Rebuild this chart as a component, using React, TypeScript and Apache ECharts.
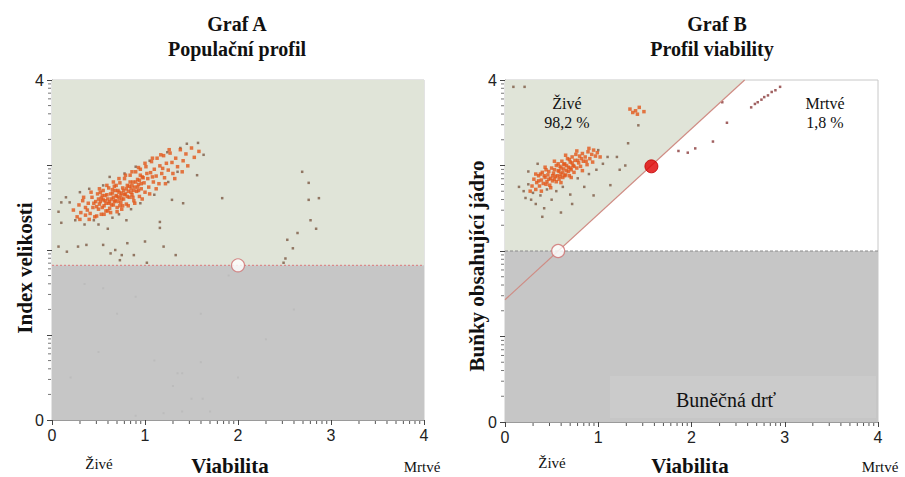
import React, { useEffect, useRef } from "react";
import * as echarts from "echarts";

// ---- axis ticks ----
const axisTickValues = [0, 1, 2, 3, 4];
const yLabelsShown = [0, 4];
const logMinorFactors = [2, 3, 4, 5, 6, 7, 8, 9];

// ---- gates ----
const gateA = 1.82; // size-index threshold in graph A
const handleA = [[2.0, 1.82]];
const gateB = 2.0; // nucleated threshold in graph B
const diagB = [[0, 1.43], [2.57, 4]]; // live / dead boundary
const handleBWhite = [[0.57, 2.0]];
const handleBRed = [[1.57, 2.99]];

// ---- Graph A data ----
const aCore = [
  [0.23, 2.47], [0.27, 2.39], [0.29, 2.53], [0.31, 2.44], [0.33, 2.58], [0.36, 2.41], [0.36, 2.5], [0.39, 2.55], [0.41, 2.43], [0.43, 2.62],
  [0.44, 2.5], [0.46, 2.39], [0.47, 2.57], [0.49, 2.66], [0.5, 2.48], [0.51, 2.54], [0.53, 2.61], [0.53, 2.42], [0.55, 2.7], [0.56, 2.52],
  [0.57, 2.58], [0.58, 2.46], [0.59, 2.65], [0.61, 2.55], [0.61, 2.73], [0.62, 2.49], [0.64, 2.6], [0.65, 2.67], [0.66, 2.53], [0.67, 2.75],
  [0.68, 2.58], [0.69, 2.64], [0.7, 2.5], [0.71, 2.7], [0.72, 2.61], [0.73, 2.79], [0.74, 2.56], [0.75, 2.67], [0.76, 2.73], [0.77, 2.6],
  [0.78, 2.84], [0.79, 2.66], [0.8, 2.54], [0.81, 2.76], [0.82, 2.69], [0.83, 2.62], [0.84, 2.88], [0.85, 2.72], [0.86, 2.65], [0.87, 2.8],
  [0.88, 2.58], [0.89, 2.74], [0.9, 2.92], [0.91, 2.69], [0.92, 2.83], [0.93, 2.77], [0.94, 2.63], [0.95, 2.95], [0.96, 2.72], [0.97, 2.86],
  [0.99, 2.79], [1.0, 2.68], [1.01, 2.98], [1.03, 2.84], [1.04, 2.74], [1.06, 2.91], [1.07, 3.04], [1.09, 2.8], [1.1, 2.95], [1.12, 2.87],
  [1.13, 3.08], [1.15, 2.78], [1.16, 2.99], [1.18, 2.9], [1.2, 3.11], [1.21, 2.85], [1.23, 3.02], [1.25, 2.94], [1.27, 3.14], [1.29, 3.03],
  [1.3, 2.9], [1.33, 3.08], [1.35, 2.98], [1.38, 3.18], [1.41, 3.05], [1.44, 3.13], [1.46, 2.99], [1.5, 3.2], [1.53, 3.09], [1.58, 3.16],
  [0.45, 2.55], [0.48, 2.51], [0.5, 2.6], [0.52, 2.57], [0.54, 2.5], [0.55, 2.59], [0.57, 2.64], [0.58, 2.55], [0.6, 2.6], [0.62, 2.57],
  [0.63, 2.66], [0.64, 2.53], [0.66, 2.62], [0.67, 2.57], [0.68, 2.7], [0.7, 2.63], [0.71, 2.57], [0.72, 2.68], [0.74, 2.64], [0.75, 2.6],
  [0.77, 2.7], [0.78, 2.65], [0.8, 2.72], [0.81, 2.63], [0.83, 2.75], [0.85, 2.68], [0.86, 2.76], [0.88, 2.7], [0.9, 2.8], [0.92, 2.74],
  [0.94, 2.82], [0.96, 2.78], [0.98, 2.85], [0.52, 2.68], [0.6, 2.46], [0.69, 2.76], [0.76, 2.52], [0.84, 2.8], [0.93, 2.7], [1.02, 2.9],
  [0.3, 2.36], [0.34, 2.62], [0.4, 2.36], [0.42, 2.68], [0.48, 2.4], [0.51, 2.72], [0.56, 2.42], [0.59, 2.76], [0.63, 2.44], [0.66, 2.8],
  [0.7, 2.45], [0.72, 2.84], [0.75, 2.48], [0.79, 2.88], [0.82, 2.52], [0.86, 2.92], [0.89, 2.55], [0.93, 2.97], [0.97, 2.6], [1.0, 3.02],
  [1.05, 2.66], [1.08, 3.08], [1.12, 2.72], [1.17, 3.12], [1.22, 2.78], [1.26, 3.18], [1.32, 2.84], [1.4, 2.92], [0.38, 2.47], [0.54, 2.64],
  [0.65, 2.71], [0.73, 2.52], [0.87, 2.62], [0.95, 2.88], [1.08, 2.86], [1.19, 2.96],
];
const aOuter = [
  [0.1, 2.56], [0.19, 2.56], [0.07, 2.45], [0.1, 2.32], [0.15, 2.62], [0.25, 2.35], [0.3, 2.68], [0.4, 2.72], [0.45, 2.35], [0.5, 2.3],
  [0.55, 2.76], [0.62, 2.86], [0.65, 2.38], [0.72, 2.42], [0.78, 2.9], [0.85, 2.48], [0.9, 2.98], [0.95, 2.55], [1.05, 3.05], [1.1, 2.65],
  [1.16, 2.33], [1.16, 2.26], [1.24, 3.15], [1.29, 2.59], [1.38, 3.2], [1.41, 2.55], [1.45, 3.25], [1.56, 2.88], [1.57, 3.26], [1.63, 3.12],
  [1.25, 2.8], [1.35, 2.92], [0.35, 2.3], [0.6, 2.25], [0.8, 2.35], [1.83, 2.61],
  [0.07, 2.04], [0.16, 1.98], [0.28, 2.04], [0.37, 2.06], [0.55, 2.06], [0.63, 1.96], [0.68, 2.0], [0.75, 1.94], [0.73, 1.88], [0.88, 1.94],
  [0.81, 2.08], [1.02, 1.85], [1.2, 2.04], [1.33, 1.94], [1.0, 2.1],
  [2.69, 2.92], [2.76, 2.79], [2.87, 2.61], [2.76, 2.59], [2.78, 2.35], [2.84, 2.25], [2.64, 2.2], [2.53, 2.12], [2.59, 2.02], [2.51, 1.9], [2.49, 1.85],
];
const aDebris = [
  [0.55, 1.55], [0.9, 1.45], [0.35, 1.6], [1.6, 1.25], [2.6, 1.3], [2.3, 0.95], [1.1, 0.7], [1.6, 0.68], [1.4, 0.55], [1.35, 0.55],
  [1.3, 0.4], [1.5, 0.25], [1.62, 0.25], [1.7, 0.1], [1.2, 0.08], [0.9, 0.05], [1.4, 0.1], [0.2, 0.5], [0.5, 0.8], [2.0, 0.5],
  [0.7, 1.25], [1.9, 1.7],
];

// ---- Graph B data ----
const bCore = [
  [0.29, 2.76], [0.31, 2.84], [0.33, 2.72], [0.34, 2.8], [0.36, 2.88], [0.37, 2.76], [0.39, 2.83], [0.4, 2.92], [0.41, 2.79], [0.43, 2.86],
  [0.44, 2.95], [0.45, 2.81], [0.46, 2.89], [0.48, 2.77], [0.49, 2.85], [0.5, 2.97], [0.51, 2.82], [0.52, 2.91], [0.54, 2.87], [0.55, 3.0],
  [0.55, 2.81], [0.57, 2.94], [0.58, 2.84], [0.59, 2.99], [0.6, 2.9], [0.61, 3.05], [0.62, 2.86], [0.63, 2.96], [0.64, 3.02], [0.65, 2.89],
  [0.66, 2.94], [0.67, 3.08], [0.68, 2.98], [0.69, 2.88], [0.7, 3.04], [0.71, 2.95], [0.72, 3.1], [0.73, 3.0], [0.74, 2.92], [0.75, 3.06],
  [0.76, 3.13], [0.77, 2.97], [0.79, 3.03], [0.8, 3.11], [0.81, 2.99], [0.83, 3.14], [0.84, 3.05], [0.86, 3.1], [0.88, 3.01], [0.89, 3.16],
  [0.91, 3.08], [0.93, 3.13], [0.95, 3.18], [0.97, 3.11], [0.99, 3.15],
  [0.42, 2.88], [0.47, 2.93], [0.51, 2.88], [0.53, 2.95], [0.56, 2.88], [0.58, 2.93], [0.6, 2.97], [0.62, 2.92], [0.64, 2.88], [0.66, 3.0],
  [0.68, 2.93], [0.7, 2.97], [0.72, 3.03], [0.74, 2.99], [0.47, 2.84], [0.53, 2.84], [0.57, 3.02], [0.63, 3.01], [0.69, 3.07], [0.78, 3.06],
  [0.38, 2.9], [0.44, 2.78], [0.82, 3.08], [0.87, 3.05],
  [0.27, 2.7], [0.33, 2.9], [0.39, 2.7], [0.43, 2.98], [0.49, 2.74], [0.53, 3.05], [0.6, 2.8], [0.65, 3.12], [0.71, 2.86], [0.77, 3.17],
  [0.83, 2.94], [0.9, 3.2], [0.94, 3.04], [1.02, 3.1], [0.36, 2.82], [0.59, 2.87],
  [1.34, 3.66], [1.37, 3.62], [1.4, 3.64], [1.44, 3.68], [1.49, 3.63], [1.42, 3.6],
];
const bOuter = [
  [0.15, 2.75], [0.2, 2.7], [0.22, 2.62], [0.25, 2.78], [0.28, 2.6], [0.3, 2.68], [0.33, 2.55], [0.38, 2.65], [0.42, 2.5], [0.45, 2.72],
  [0.5, 2.6], [0.55, 2.7], [0.6, 2.45], [0.62, 2.75], [0.7, 2.66], [0.72, 2.55], [0.78, 2.85], [0.85, 2.75], [0.9, 2.9], [0.98, 2.95],
  [1.05, 3.02], [1.0, 3.18], [1.1, 3.1], [0.95, 2.65], [0.25, 2.93], [0.35, 3.02], [0.4, 2.4], [1.2, 3.1], [1.13, 2.77], [1.23, 2.95],
  [1.29, 3.0], [1.32, 3.26], [1.43, 3.47], [0.09, 3.92], [0.21, 3.92],
];
const bDead = [
  [2.64, 3.68], [2.68, 3.72], [2.71, 3.74], [2.75, 3.77], [2.78, 3.8], [2.82, 3.82], [2.86, 3.86], [2.9, 3.88], [2.95, 3.92],
  [2.33, 3.74], [2.38, 3.5], [1.86, 3.17], [1.96, 3.15], [2.04, 3.2], [2.23, 3.28],
];

const GREEN = "#e0e4d8";
const GRAY = "#c6c6c6";
const ORANGE = "#e2581a";
const BROWN = "#7d5a45";
const SERIF = "'Liberation Serif', 'Times New Roman', Times, serif";
const SANS = "'Liberation Sans', Arial, sans-serif";

function xAxisCfg(gridIndex: number) {
  return {
    type: "value",
    gridIndex,
    min: 0,
    max: 4,
    interval: 1,
    axisLine: { show: true, lineStyle: { color: "#9a9a9a", width: 1 } },
    axisTick: { show: true, length: 5, lineStyle: { color: "#444" } },
    axisLabel: { fontSize: 16, fontFamily: SANS, color: "#222", margin: 7 },
    splitLine: { show: false },
  };
}
function yAxisCfg(gridIndex: number) {
  return {
    type: "value",
    gridIndex,
    min: 0,
    max: 4,
    interval: 1,
    axisLine: { show: true, lineStyle: { color: "#9a9a9a", width: 1 } },
    axisTick: { show: true, length: 5, lineStyle: { color: "#444" } },
    axisLabel: {
      fontSize: 16,
      fontFamily: SANS,
      color: "#222",
      margin: 8,
      formatter: (v: number) => (yLabelsShown.includes(v) ? String(v) : ""),
    },
    splitLine: { show: false },
  };
}

function scatter(idx: number, data: number[][], color: string, size: number, z: number, symbol = "rect") {
  return {
    type: "scatter",
    xAxisIndex: idx,
    yAxisIndex: idx,
    data,
    symbol,
    symbolSize: size,
    itemStyle: { color },
    silent: true,
    z,
  };
}

export default function App() {
  const ref = useRef<HTMLDivElement>(null);
  useEffect(() => {
    document.body.style.margin = "0";
    const chart = echarts.init(ref.current!, null, { renderer: "svg" });

    const bgA = {
      type: "custom",
      xAxisIndex: 0,
      yAxisIndex: 0,
      silent: true,
      z: 1,
      data: [0],
      renderItem: (_p: any, api: any) => {
        const p = (x: number, y: number) => api.coord([x, y]);
        return {
          type: "group",
          children: [
            { type: "polygon", shape: { points: [p(0, gateA), p(4, gateA), p(4, 4), p(0, 4)] }, style: { fill: GREEN } },
            { type: "polygon", shape: { points: [p(0, 0), p(4, 0), p(4, gateA), p(0, gateA)] }, style: { fill: GRAY } },
          ],
        };
      },
    };
    const linesA = {
      type: "custom",
      xAxisIndex: 0,
      yAxisIndex: 0,
      silent: true,
      z: 5,
      data: [0],
      renderItem: (_p: any, api: any) => {
        const a = api.coord([0, gateA]);
        const b = api.coord([4, gateA]);
        return {
          type: "line",
          shape: { x1: a[0], y1: a[1], x2: b[0], y2: b[1] },
          style: { stroke: "#d98a8a", lineWidth: 1.2, lineDash: [2, 2] },
        };
      },
    };
    const bgB = {
      type: "custom",
      xAxisIndex: 1,
      yAxisIndex: 1,
      silent: true,
      z: 1,
      data: [0],
      renderItem: (_p: any, api: any) => {
        const p = (x: number, y: number) => api.coord([x, y]);
        return {
          type: "group",
          children: [
            { type: "polygon", shape: { points: [p(0, gateB), p(handleBWhite[0][0], gateB), p(diagB[1][0], diagB[1][1]), p(0, 4)] }, style: { fill: GREEN } },
            { type: "polygon", shape: { points: [p(0, 0), p(4, 0), p(4, gateB), p(0, gateB)] }, style: { fill: GRAY } },
          ],
        };
      },
    };
    const linesB = {
      type: "custom",
      xAxisIndex: 1,
      yAxisIndex: 1,
      silent: true,
      z: 5,
      data: [0],
      renderItem: (_p: any, api: any) => {
        const a = api.coord([0, gateB]);
        const b = api.coord([4, gateB]);
        const c = api.coord(diagB[0]);
        const d = api.coord(diagB[1]);
        return {
          type: "group",
          children: [
            { type: "line", shape: { x1: a[0], y1: a[1], x2: b[0], y2: b[1] }, style: { stroke: "#8a8a8a", lineWidth: 1, lineDash: [3, 2] } },
            { type: "line", shape: { x1: c[0], y1: c[1], x2: d[0], y2: d[1] }, style: { stroke: "#cf8c84", lineWidth: 1.2 } },
          ],
        };
      },
    };

    const txt = (x: number, y: number, text: string, font: string, extra: any = {}, lineHeight?: number) => ({
      type: "text",
      x,
      y,
      silent: true,
      z: 100,
      style: { text, fill: "#111", align: "center", verticalAlign: "middle", font, ...(lineHeight ? { lineHeight } : {}) },
      ...extra,
    });
    const titleFont = `bold 20px ${SERIF}`;
    const nameFont = `bold 21px ${SERIF}`;
    const smallFont = `15px ${SERIF}`;
    const inFont = `16px ${SERIF}`;

    const baseGraphic: any[] = [
      txt(237, 24, "Graf A", titleFont),
      txt(237, 49, "Populační profil", titleFont),
      txt(717, 24, "Graf B", titleFont),
      txt(712, 49, "Profil viability", titleFont),
      txt(25, 268, "Index velikosti", nameFont, { rotation: Math.PI / 2 }),
      txt(477, 266, "Buňky obsahující jádro", nameFont, { rotation: Math.PI / 2 }),
      txt(230, 466, "Viabilita", nameFont),
      txt(690, 466, "Viabilita", nameFont),
      txt(99, 464, "Živé", smallFont),
      txt(552, 463, "Živé", smallFont),
      txt(422, 467, "Mrtvé", smallFont),
      txt(880, 467, "Mrtvé", smallFont),
      txt(567, 113, "Živé\n98,2 %", inFont, {}, 19),
      txt(825, 113, "Mrtvé\n1,8 %", inFont, {}, 19),
      {
        type: "rect",
        shape: { x: 610, y: 376, width: 266, height: 42 },
        style: { fill: "#cbcbcb" },
        silent: true,
        z: 90,
      },
      txt(726, 400, "Buněčná drť", `20px ${SERIF}`),
    ];

    const option: any = {
      animation: false,
      backgroundColor: "#ffffff",
      grid: [
        { left: 52, top: 80, width: 372, height: 340, show: true, borderColor: "#c8c8c8", borderWidth: 1, backgroundColor: "transparent" },
        { left: 505, top: 80, width: 373, height: 342, show: true, borderColor: "#c8c8c8", borderWidth: 1, backgroundColor: "transparent" },
      ],
      xAxis: [xAxisCfg(0), xAxisCfg(1)],
      yAxis: [yAxisCfg(0), yAxisCfg(1)],
      series: [
        bgA,
        scatter(0, aDebris, "#b9b9b9", 2, 2),
        scatter(0, aOuter, BROWN, 2.5, 3),
        scatter(0, aCore, ORANGE, 3.5, 4),
        linesA,
        {
          type: "scatter", xAxisIndex: 0, yAxisIndex: 0, data: handleA, symbol: "circle", symbolSize: 13, silent: true, z: 10,
          itemStyle: { color: "#ffffff", borderColor: "#d07070", borderWidth: 1.2 },
        },
        bgB,
        scatter(1, bOuter, BROWN, 2.5, 3),
        scatter(1, bCore, ORANGE, 3.5, 4),
        scatter(1, bDead, "#8a3a3a", 2.5, 4),
        linesB,
        {
          type: "scatter", xAxisIndex: 1, yAxisIndex: 1, data: handleBWhite, symbol: "circle", symbolSize: 13, silent: true, z: 10,
          itemStyle: { color: "#ffffff", borderColor: "#d07070", borderWidth: 1.2 },
        },
        {
          type: "scatter", xAxisIndex: 1, yAxisIndex: 1, data: handleBRed, symbol: "circle", symbolSize: 13, silent: true, z: 10,
          itemStyle: { color: "#e00000", borderColor: "#c00000", borderWidth: 1 },
        },
      ],
      graphic: baseGraphic,
    };
    chart.setOption(option);

    // log-style minor ticks drawn with the axes' own scales
    const minor: any[] = [];
    [0, 1].forEach((g) => {
      for (let d = 0; d < axisTickValues.length - 1; d++) {
        logMinorFactors.forEach((k) => {
          const v = axisTickValues[d] + Math.log10(k);
          const px = chart.convertToPixel({ gridIndex: g } as any, [v, 0]) as number[];
          minor.push({ type: "line", silent: true, z: 50, shape: { x1: px[0], y1: px[1] + 1, x2: px[0], y2: px[1] + 4 }, style: { stroke: "#555", lineWidth: 1 } });
          const py = chart.convertToPixel({ gridIndex: g } as any, [0, v]) as number[];
          minor.push({ type: "line", silent: true, z: 50, shape: { x1: py[0] - 4, y1: py[1], x2: py[0] - 1, y2: py[1] }, style: { stroke: "#777", lineWidth: 1 } });
        });
      }
    });
    chart.setOption({ graphic: [...baseGraphic, ...minor] });

    return () => chart.dispose();
  }, []);
  return <div ref={ref} style={{ width: 905, height: 477 }} />;
}
